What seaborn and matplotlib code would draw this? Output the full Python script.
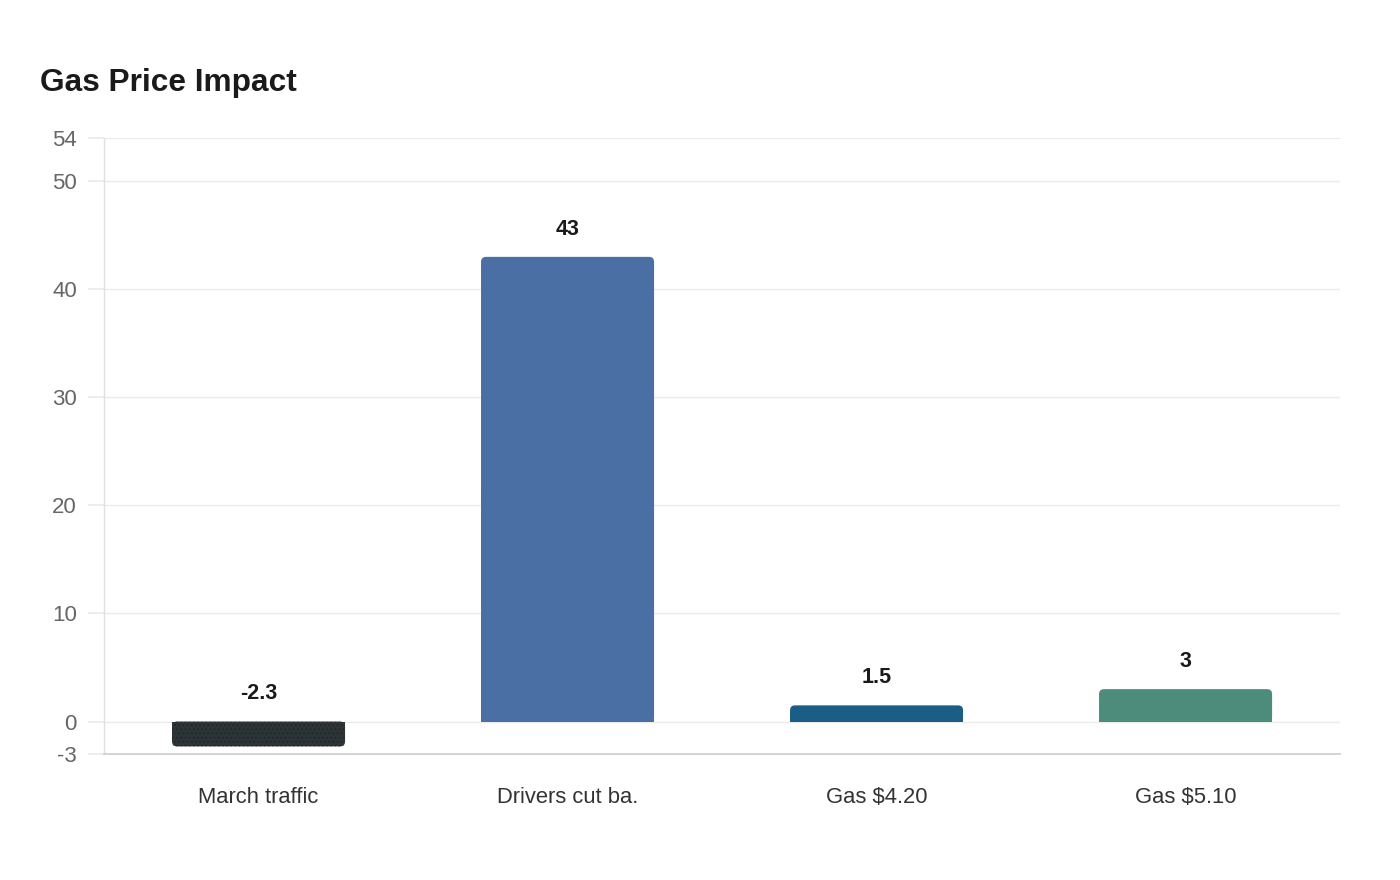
import numpy as np
import pandas as pd
import seaborn as sns
import matplotlib.pyplot as plt
from matplotlib.patches import FancyBboxPatch, Rectangle

# chart data
categories = ["March traffic", "Drivers cut ba.", "Gas $4.20", "Gas $5.10"]
values = [-2.3, 43, 1.5, 3]
value_labels = ["-2.3", "43", "1.5", "3"]
bar_colors = ["#2d3436", "#4a6fa5", "#1a5e85", "#4d8b7a"]
y_ticks = [-3, 0, 10, 20, 30, 40, 50, 54]

sns.set_theme(style="white")
plt.rcParams["font.family"] = ["Liberation Sans", "DejaVu Sans"]
plt.rcParams["hatch.linewidth"] = 0.5

df = pd.DataFrame({"cat": categories, "val": values})

fig = plt.figure(figsize=(14, 8.8), dpi=100)
ax = fig.add_axes([0.0743, 0.1432, 0.8829, 0.7])

sns.barplot(data=df, x="cat", y="val", hue="cat", palette=bar_colors,
            saturation=1, width=0.56, legend=False, ax=ax, zorder=3)

ax.set_ylim(-3, 54)
ax.set_xlim(-0.5, len(categories) - 0.5)

# swap the plain bars for ones rounded at the outer end
px_x = 1236 / len(categories)      # pixels per x unit
px_y = 616 / 57                    # pixels per y unit
r = 5 / px_x
aspect = px_x / px_y
for i, p in enumerate(list(ax.patches)):
    x0, w, h = p.get_x(), p.get_width(), p.get_height()
    col = p.get_facecolor()
    p.set_visible(False)
    y0 = min(0, h)
    hatch = "...." if i == 0 else None
    ec = "#1e2325" if i == 0 else col
    rb = FancyBboxPatch((x0, y0), w, abs(h),
                        boxstyle=f"round,pad=0,rounding_size={r}",
                        mutation_aspect=aspect, facecolor=col, edgecolor=ec,
                        hatch=hatch, linewidth=0, zorder=3)
    ax.add_patch(rb)
    half = abs(h) / 2
    sq_y = 0 if h > 0 else -half
    sq = Rectangle((x0, sq_y), w, half, facecolor=col, edgecolor=ec,
                   hatch=hatch, linewidth=0, zorder=3)
    ax.add_patch(sq)

# value labels above bars (or above zero for negatives)
for i, (v, lab) in enumerate(zip(values, value_labels)):
    ax.annotate(lab, (i, max(v, 0)), xytext=(0, 20), textcoords="offset points",
                ha="center", va="center", fontsize=15.5, fontweight="bold",
                color="#1a1a1a", zorder=5)

ax.set_yticks(y_ticks)
ax.set_yticklabels([str(t) for t in y_ticks])
ax.grid(axis="y", color="#ebebeb", linewidth=1, zorder=0)
ax.grid(axis="x", visible=False)

for s in ["top", "right"]:
    ax.spines[s].set_visible(False)
ax.spines["left"].set_color("#e0e0e0")
ax.spines["bottom"].set_color("#cccccc")
ax.spines["left"].set_linewidth(1)
ax.spines["bottom"].set_linewidth(1.2)

ax.tick_params(axis="y", length=11.5, color="#ebebeb", labelsize=16,
               labelcolor="#666666", pad=8, left=True)
ax.tick_params(axis="x", length=0, labelsize=15.8, labelcolor="#333333", pad=24)
ax.set_xlabel("")
ax.set_ylabel("")

fig.text(0.0286, 0.906, "Gas Price Impact", fontsize=22.8, fontweight="bold",
         color="#1a1a1a", ha="left", va="center")

fig.savefig("out.png", dpi=100, facecolor="white")
